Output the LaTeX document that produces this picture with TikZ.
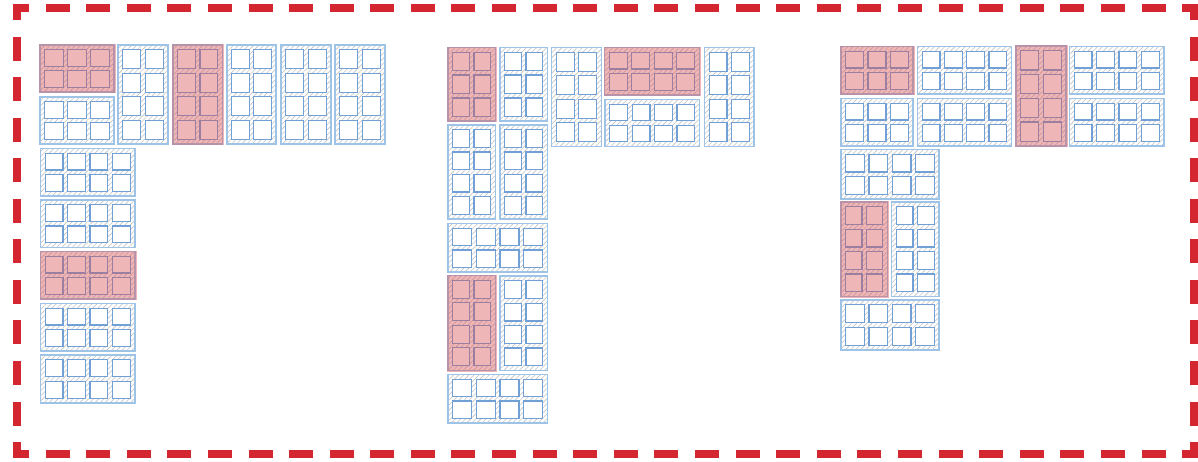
\documentclass[tikz,border=0pt]{standalone}
\usetikzlibrary{patterns.meta}
\definecolor{framered}{RGB}{212,38,48}
\definecolor{blkblue}{RGB}{157,195,230}
\definecolor{cellblue}{RGB}{112,160,214}
\definecolor{hatchgray}{RGB}{195,195,195}
\definecolor{ovred}{RGB}{217,82,87}
\tikzset{
  hatchbg/.style={pattern={Lines[angle=45,distance=3.6pt,line width=0.6pt]},pattern color=hatchgray},
  blkline/.style={draw=blkblue,line width=1.1pt},
  cellline/.style={draw=cellblue,fill=white,line width=1.3pt},
  redov/.style={fill=ovred,fill opacity=0.42},
  frameline/.style={draw=framered,line width=8pt},
  framecorner/.style={draw=framered,line width=8pt,miter limit=10},
}
\newcommand{\blk}[6]{%
  \fill[white] (#1,#2) rectangle (#3,#4);
  \fill[hatchbg] (#1,#2) rectangle (#3,#4);
  \draw[blkline] (#1,#2) rectangle (#3,#4);
  \pgfmathsetmacro{\cw}{((#3-#1)-9.6-(#5-1)*4.6)/#5}
  \pgfmathsetmacro{\ch}{((#4-#2)-9.6-(#6-1)*4.6)/#6}
  \foreach \i in {1,...,#5}{\foreach \j in {1,...,#6}{
    \pgfmathsetmacro{\cx}{#1+4.8+(\i-1)*(\cw+4.6)}
    \pgfmathsetmacro{\cy}{#2+4.8+(\j-1)*(\ch+4.6)}
    \draw[cellline] (\cx,\cy) rectangle ++(\cw,\ch);
  }}%
}
\newcommand{\rblk}[6]{%
  \blk{#1}{#2}{#3}{#4}{#5}{#6}%
  \fill[redov] (#1-0.6,#2-0.6) rectangle (#3+1.6,#4+1.4);
}
\newcommand{\fside}[5]{% x1 y1 x2 y2 gap
  \draw[frameline,dash pattern=on 24pt off #5pt,dash phase=12pt] (#1,#2) -- (#3,#4);
}
\begin{document}
\begin{tikzpicture}[x=1pt,y=-1pt]
\useasboundingbox (0,0) rectangle (1198,462);
% frame
\coordinate (tl) at (17,8);
\coordinate (tr) at (1194,8);
\coordinate (bl) at (17,454);
\coordinate (br) at (1194,454);
\fside{17}{8}{1194}{8}{16.59}
\fside{17}{454}{1194}{454}{16.59}
\fside{17}{8}{17}{454}{16.55}
\fside{1194}{8}{1194}{454}{16.55}
\draw[framecorner] ([yshift=-12pt]tl) -- (tl) -- ([xshift=12pt]tl);
\draw[framecorner] ([xshift=-12pt]tr) -- (tr) -- ([yshift=-12pt]tr);
\draw[framecorner] ([yshift=12pt]bl) -- (bl) -- ([xshift=12pt]bl);
\draw[framecorner] ([xshift=-12pt]br) -- (br) -- ([yshift=12pt]br);
% left group
\rblk{40}{45}{114}{92}{3}{2}
\blk{40}{97}{114}{144}{3}{2}
\blk{118}{45}{168}{144}{2}{4}
\rblk{173}{45}{222.5}{144}{2}{4}
\blk{227}{45}{276}{144}{2}{4}
\blk{281}{45}{331}{144}{2}{4}
\blk{335}{45}{385}{144}{2}{4}
\blk{40.5}{148.5}{135}{196}{4}{2}
\blk{40.5}{200}{135}{247.5}{4}{2}
\rblk{40.5}{251.5}{135}{299}{4}{2}
\blk{40.5}{303.5}{135}{351}{4}{2}
\blk{40.5}{355}{135}{403}{4}{2}
% middle group
\rblk{448}{47.5}{495.5}{121}{2}{3}
\blk{500}{47.5}{547.5}{121}{2}{3}
\blk{551.5}{47.5}{601.5}{146.5}{2}{4}
\rblk{604.5}{47.5}{699.5}{95}{4}{2}
\blk{605}{99.5}{699.5}{146.5}{4}{2}
\blk{704.5}{47.5}{754}{146.5}{2}{4}
\blk{448}{125}{495.5}{219}{2}{4}
\blk{500}{125}{547.5}{219}{2}{4}
\blk{448}{223.5}{547.5}{272}{4}{2}
\rblk{448}{275.5}{495.5}{370.5}{2}{4}
\blk{500}{276}{547.5}{370.5}{2}{4}
\blk{448}{374.5}{547.5}{423}{4}{2}
% right group
\rblk{841}{46.5}{913}{94}{3}{2}
\blk{917.5}{46.5}{1011.5}{94}{4}{2}
\rblk{1016}{46}{1066}{146}{2}{4}
\blk{1069.5}{46.5}{1164}{94}{4}{2}
\blk{841}{98.5}{913}{146}{3}{2}
\blk{917.5}{98.5}{1011.5}{146}{4}{2}
\blk{1069.5}{98.5}{1164}{146}{4}{2}
\blk{841}{149.5}{939}{199}{4}{2}
\rblk{841}{202}{887.5}{296.5}{2}{4}
\blk{891.5}{202}{939}{296.5}{2}{4}
\blk{841}{300}{939}{350}{4}{2}
\end{tikzpicture}
\end{document}
